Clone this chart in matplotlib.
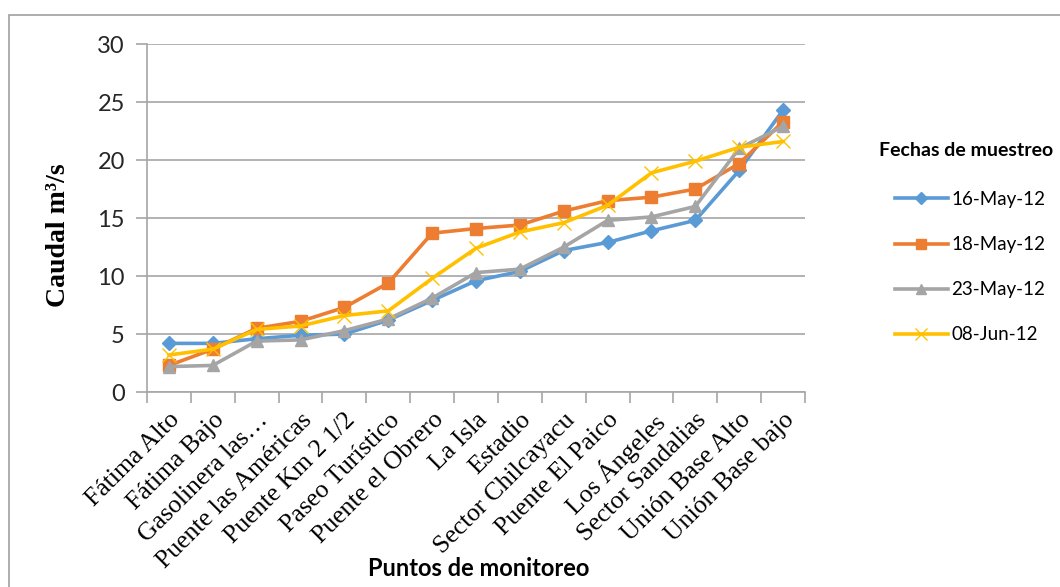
import numpy as np
import matplotlib.pyplot as plt
from matplotlib.patches import Rectangle
from matplotlib.ticker import MultipleLocator

puntos = ["Fátima Alto", "Fátima Bajo", "Gasolinera las…", "Puente las Américas",
          "Puente Km 2 1/2", "Paseo Turístico", "Puente el Obrero", "La Isla",
          "Estadio", "Sector Chilcayacu", "Puente El Paico", "Los Ángeles",
          "Sector Sandalias", "Unión Base Alto", "Unión Base bajo"]

may16 = [4.2, 4.2, 4.6, 4.9, 5.0, 6.2, 7.9, 9.6, 10.4, 12.2, 12.9, 13.9, 14.8, 19.1, 24.3]
may18 = [2.3, 3.7, 5.5, 6.1, 7.3, 9.4, 13.7, 14.1, 14.4, 15.6, 16.5, 16.8, 17.5, 19.7, 23.3]
may23 = [2.2, 2.3, 4.4, 4.5, 5.3, 6.3, 8.1, 10.3, 10.6, 12.5, 14.8, 15.1, 16.0, 21.0, 22.9]
jun08 = [3.2, 3.7, 5.4, 5.7, 6.6, 7.0, 9.8, 12.4, 13.8, 14.6, 16.1, 18.9, 19.9, 21.1, 21.6]
fechas = ["16-May-12", "18-May-12", "23-May-12", "08-Jun-12"]

fig = plt.figure(figsize=(10.6, 5.87), dpi=100)
ax = fig.add_axes([0.1387, 0.332, 0.6207, 0.593])

# frame around chart area
fig.patches.append(Rectangle((9 / 1060, -0.05), 1.1, 1 - 15 / 587 + 0.05,
                             transform=fig.transFigure, fill=False,
                             edgecolor="#a0a0a0", lw=1.2))

x = np.arange(len(puntos))
series = [may16, may18, may23, jun08]
colors = ["#5B9BD5", "#ED7D31", "#A5A5A5", "#FFC000"]
markers = ["D", "s", "^", "x"]
msizes = [7.5, 9, 9, 10]

for vals, c, m, ms, lab in zip(series, colors, markers, msizes, fechas):
    ax.plot(x, vals, color=c, lw=2.6, marker=m, ms=ms, label=lab,
            markeredgewidth=1.0)

ax.set_xlim(-0.5, len(puntos) - 0.5)
ax.set_ylim(0, 30)
ax.yaxis.set_major_locator(MultipleLocator(5))
ax.grid(axis="y", color="#a6a6a6", lw=1.2)
ax.set_axisbelow(True)

for s in ["top", "right"]:
    ax.spines[s].set_visible(False)
for s in ["left", "bottom"]:
    ax.spines[s].set_color("#a6a6a6")
    ax.spines[s].set_linewidth(1.2)

ax.set_xticks(x)
ax.set_xticklabels(puntos, rotation=45, ha="right", rotation_mode="anchor",
                   family="Liberation Serif", fontsize=18.5)
ax.set_xticks(np.arange(-0.5, len(puntos)), minor=True)
ax.tick_params(axis="x", which="major", length=0, pad=12)
ax.tick_params(axis="x", which="minor", length=8, color="#a6a6a6", width=1.2)
ax.tick_params(axis="y", length=8, color="#a6a6a6", width=1.2, pad=8,
               labelsize=17, labelcolor="#262626")
for t in ax.get_yticklabels():
    t.set_family("Lato")

ax.set_ylabel("Caudal m³/s", family="Liberation Serif", fontweight="bold",
              fontsize=20)
ax.yaxis.set_label_coords(-0.115, 0.45)
fig.text(479 / 1060, 1 - 568 / 587, "Puntos de monitoreo", family="Lato",
         fontweight="bold", fontsize=17, ha="center", va="center")

fig.text(966 / 1060, 1 - 150 / 587, "Fechas de muestreo", family="Lato",
         fontweight="bold", fontsize=14, ha="center", va="center")
leg = ax.legend(loc="upper left", bbox_to_anchor=(895 / 1060, 1 - 191 / 587),
                bbox_transform=fig.transFigure, frameon=False,
                borderaxespad=0, borderpad=0,
                prop={"family": "Lato", "size": 13.5}, labelspacing=1.5,
                handlelength=2.8, handletextpad=0.2, markerscale=0.8)

fig.savefig("out.png", dpi=100)
